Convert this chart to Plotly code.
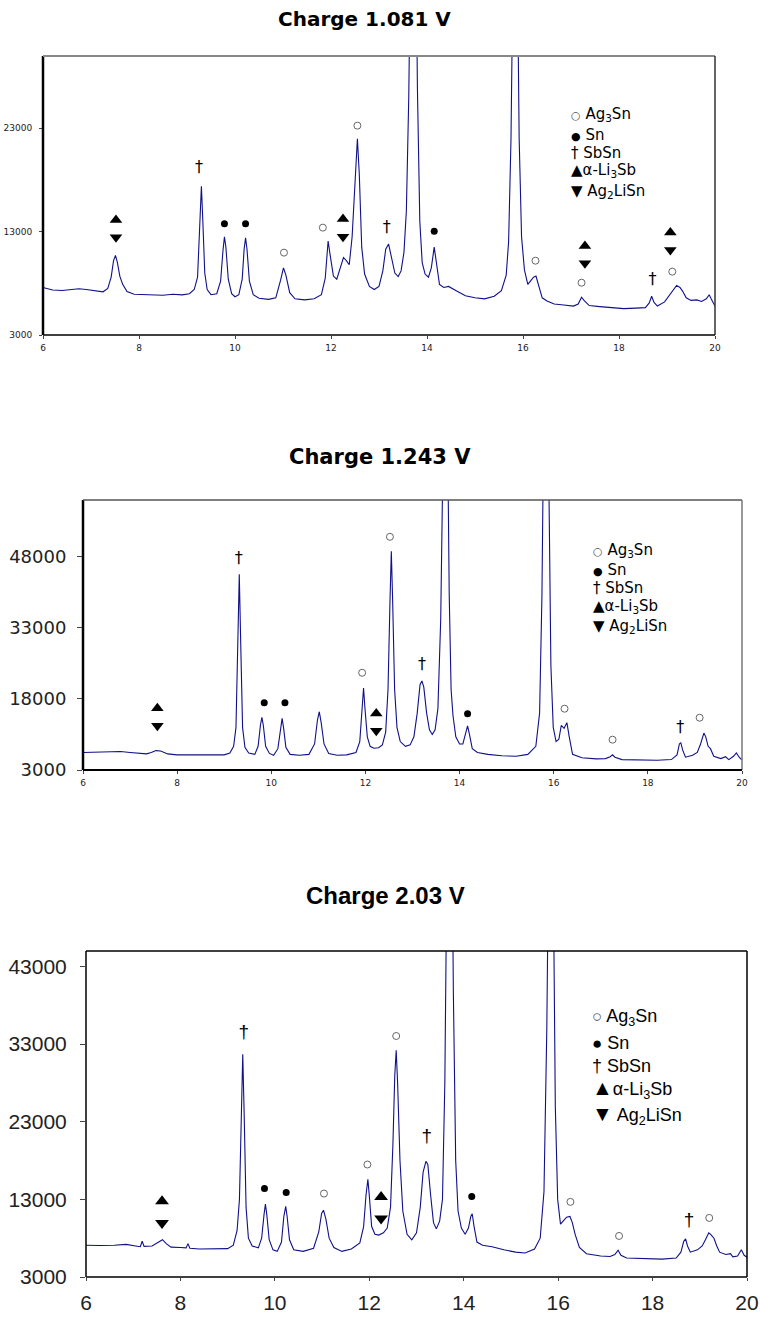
import plotly.graph_objects as go

# ---------------- data ----------------
TITLES = ["Charge 1.081 V", "Charge 1.243 V", "Charge 2.03 V"]
X_TICKS = [6, 8, 10, 12, 14, 16, 18, 20]
Y_TICKS_1 = [3000, 13000, 23000]
Y_TICKS_2 = [3000, 18000, 33000, 48000]
Y_TICKS_3 = [3000, 13000, 23000, 33000, 43000]

x1 = [6.00, 6.20, 6.40, 6.60, 6.75, 6.90, 7.10, 7.25, 7.35, 7.42, 7.47, 7.51, 7.55, 7.60, 7.66, 7.75, 7.90, 8.20,
      8.50, 8.70, 8.90, 9.05, 9.15, 9.22, 9.26, 9.30, 9.33, 9.37, 9.42, 9.50, 9.62, 9.70, 9.75, 9.78, 9.81, 9.86,
      9.93, 10.00, 10.08, 10.15, 10.19, 10.22, 10.25, 10.30, 10.38, 10.50, 10.70, 10.85, 10.95, 11.01, 11.06, 11.14,
      11.25, 11.45, 11.65, 11.80, 11.88, 11.94, 11.98, 12.05, 12.12, 12.20, 12.26, 12.32, 12.38, 12.44, 12.50, 12.55,
      12.59, 12.64, 12.70, 12.80, 12.90, 13.00, 13.08, 13.14, 13.20, 13.26, 13.33, 13.40, 13.46, 13.52, 13.57, 13.62,
      13.67, 13.71, 13.75, 13.80, 13.85, 13.90, 13.96, 14.03, 14.09, 14.15, 14.20, 14.26, 14.35, 14.45, 14.60, 14.80,
      15.00, 15.20, 15.40, 15.55, 15.65, 15.70, 15.75, 15.80, 15.84, 15.88, 15.92, 15.97, 16.03, 16.10, 16.16, 16.22,
      16.27, 16.32, 16.40, 16.50, 16.65, 16.85, 17.05, 17.15, 17.22, 17.28, 17.38, 17.60, 17.85, 18.10, 18.35, 18.55,
      18.63, 18.68, 18.73, 18.80, 18.95, 19.05, 19.15, 19.20, 19.27, 19.33, 19.40, 19.50, 19.62, 19.72, 19.82, 19.88,
      19.93, 20.00]
y1 = [7600, 7350, 7300, 7400, 7480, 7400, 7250, 7180, 7500, 8600, 10200, 10700, 10000, 8700, 7900, 7200, 6950, 6900,
      6850, 6950, 6880, 7000, 7400, 8600, 12500, 17400, 14000, 9000, 7400, 6900, 7000, 8200, 11200, 12500, 11500, 8400,
      7000, 6700, 6900, 8400, 11300, 12400, 11300, 8200, 6900, 6550, 6450, 6600, 8300, 9500, 8800, 7100,
      6500, 6400, 6500, 6900, 8500, 12100, 10800, 8700, 8400, 9500, 10500, 10200, 9800, 12500, 18500, 22000,
      18500, 11500, 8900, 7700, 7400, 7700, 9200, 11300, 11800, 10600, 9000, 8650, 9200, 11000, 15000, 26000,
      52000, 60000, 50000, 27000, 14000, 10000, 8900, 8600, 9500, 11500, 10000, 7900, 7600, 7700, 7300, 6800,
      6600, 6500, 6750, 7300, 8800, 12000, 22000, 45000, 58000, 40000, 22000, 12500, 9300, 7900, 8200, 8600,
      8700, 7800, 6600, 6300, 6000, 5900, 5800, 6000, 6650, 6300, 5850, 5750, 5650, 5550, 5600, 5650,
      6100, 6750, 6150, 5800, 6200, 6800, 7500, 7800, 7600, 7200, 6600, 6350, 6400, 6250, 6500, 6900,
      6400, 5800]

x2 = [6.00, 6.30, 6.60, 6.80, 7.00, 7.20, 7.35, 7.45, 7.55, 7.65, 7.80, 8.00, 8.40, 8.80, 9.00, 9.12, 9.20, 9.25,
      9.29, 9.32, 9.35, 9.39, 9.44, 9.52, 9.65, 9.72, 9.77, 9.80, 9.83, 9.88, 9.96, 10.05, 10.14, 10.19, 10.23, 10.26,
      10.31, 10.40, 10.60, 10.80, 10.92, 10.98, 11.02, 11.06, 11.12, 11.22, 11.40, 11.60, 11.80, 11.88, 11.93, 11.96,
      11.99, 12.04, 12.10, 12.18, 12.28, 12.36, 12.43, 12.48, 12.52, 12.55, 12.58, 12.62, 12.67, 12.74, 12.85, 12.95,
      13.03, 13.10, 13.16, 13.20, 13.24, 13.30, 13.36, 13.42, 13.48, 13.54, 13.60, 13.65, 13.69, 13.74, 13.78, 13.82,
      13.86, 13.92, 14.00, 14.07, 14.12, 14.17, 14.21, 14.27, 14.38, 14.60, 14.90, 15.20, 15.45, 15.62, 15.70, 15.75,
      15.80, 15.85, 15.89, 15.94, 15.99, 16.05, 16.11, 16.16, 16.22, 16.28, 16.33, 16.40, 16.60, 16.90, 17.10, 17.20,
      17.25, 17.30, 17.45, 17.80, 18.20, 18.50, 18.62, 18.67, 18.70, 18.74, 18.80, 18.95, 19.05, 19.12, 19.19, 19.23,
      19.28, 19.33, 19.40, 19.55, 19.65, 19.72, 19.82, 19.88, 19.94, 20.00]
y2 = [6700, 6800, 6850, 6900, 6700, 6450, 6400, 6700, 7100, 7000, 6400, 6200, 6150, 6150, 6200, 6600, 8000, 12000,
      30000, 44300, 30000, 12000, 7800, 6600, 6300, 8000, 12500, 14100, 12500, 8000, 6500, 6100, 7500, 11500, 13900, 12000,
      7800, 6300, 6100, 6300, 8500, 13500, 15300, 13000, 8500, 6500, 6100, 6200, 6700, 9000, 16000, 20300,
      16000, 10000, 8000, 7600, 7700, 8300, 11000, 20000, 38000, 49200, 38000, 20000, 12000, 9000, 8000, 8300,
      10000, 15000, 21000, 21800, 20500, 15000, 11500, 10500, 11500, 16000, 35000, 70000, 100000, 80000, 40000, 20000,
      14500, 10000, 8500, 8500, 10500, 12300, 10500, 7500, 6700, 6300, 6000, 5900, 6300, 8000, 15000, 40000,
      90000, 110000, 70000, 25000, 12000, 9000, 9500, 12400, 11800, 13000, 10000, 6300, 5600, 5350, 5400, 5800,
      6200, 5700, 5200, 5150, 5050, 5200, 6200, 8500, 8800, 7200, 5700, 6100, 6700, 8500, 10800, 10000,
      8000, 7500, 5900, 5400, 5800, 5200, 5900, 6600, 5700, 5100]

x3 = [6.00, 6.30, 6.60, 6.85, 7.05, 7.15, 7.19, 7.23, 7.40, 7.48, 7.55, 7.62, 7.70, 7.80, 8.00, 8.12, 8.16, 8.20,
      8.40, 8.70, 9.00, 9.12, 9.20, 9.25, 9.29, 9.32, 9.35, 9.39, 9.44, 9.52, 9.65, 9.72, 9.77, 9.80, 9.83, 9.88,
      9.96, 10.05, 10.14, 10.19, 10.23, 10.26, 10.31, 10.40, 10.60, 10.82, 10.93, 10.99, 11.03, 11.08, 11.15, 11.25,
      11.42, 11.62, 11.80, 11.88, 11.93, 11.97, 12.00, 12.05, 12.12, 12.20, 12.30, 12.38, 12.45, 12.50, 12.54, 12.57,
      12.60, 12.65, 12.71, 12.80, 12.90, 13.00, 13.08, 13.14, 13.20, 13.24, 13.30, 13.36, 13.42, 13.49, 13.55, 13.60,
      13.65, 13.69, 13.74, 13.78, 13.83, 13.88, 13.95, 14.03, 14.10, 14.15, 14.18, 14.22, 14.28, 14.40, 14.60, 14.85,
      15.10, 15.30, 15.50, 15.62, 15.70, 15.76, 15.81, 15.85, 15.89, 15.94, 15.99, 16.05, 16.12, 16.18, 16.25, 16.30,
      16.36, 16.45, 16.60, 16.90, 17.10, 17.20, 17.27, 17.33, 17.45, 17.80, 18.20, 18.50, 18.60, 18.66, 18.70, 18.74,
      18.80, 18.95, 19.05, 19.12, 19.19, 19.23, 19.30, 19.36, 19.42, 19.55, 19.65, 19.70, 19.80, 19.88, 19.94, 20.00]
y3 = [7100, 7050, 7100, 7200, 7000, 6900, 7600, 6950, 7000, 7300, 7600, 7800, 7300, 6850, 6800, 6750, 7300, 6700,
      6600, 6600, 6650, 7100, 9000, 13000, 24000, 31700, 24000, 12000, 8000, 7000, 6750, 8000, 11000, 12400, 11000, 7800,
      6500, 6300, 7500, 10800, 12100, 10800, 7800, 6500, 6300, 6700, 8800, 11200, 11600, 10500, 8000, 6800,
      6300, 6600, 7400, 9500, 13500, 15600, 13500, 9500, 8500, 8400, 8700, 9300, 12000, 20000, 29000, 32200,
      28000, 18000, 11500, 8500, 7800, 8700, 12000, 16500, 17900, 17500, 13500, 10000, 9200, 10200, 13000, 28000,
      60000, 85000, 70000, 40000, 18000, 11500, 9300, 8500, 9300, 10800, 11150, 9500, 7500, 7100, 6900, 6500,
      6200, 6100, 6600, 8000, 14000, 35000, 75000, 90000, 60000, 25000, 13000, 9800, 10300, 10700, 10800, 10000,
      8500, 6800, 6000, 5700, 5650, 5900, 6450, 5800, 5450, 5400, 5300, 5450, 6200, 7600, 7900, 7000,
      6200, 6500, 7000, 7800, 8700, 8500, 8000, 7000, 6200, 5900, 6000, 5600, 5700, 6500, 5800, 5550]

# phase marks: (x, y) in data units
p1_open_x = [11.02, 11.83, 12.55, 16.26, 17.22, 19.11]
p1_open_y = [10970, 13390, 23260, 10190, 8060, 9130]
p1_fill_x = [9.78, 10.22, 14.15]
p1_fill_y = [13770, 13770, 13030]
p1_tri_x = [7.52, 12.25, 17.29, 19.07]
p1_up_y = [14130, 14230, 11610, 12930]
p1_dn_y = [12450, 12520, 9940, 11230]
p1_dag_x = [9.25, 13.16, 18.70]
p1_dag_y = [19130, 13320, 8320]

p2_open_x = [11.93, 12.52, 16.23, 17.25, 19.10]
p2_open_y = [23530, 52230, 15940, 9400, 14040]
p2_fill_x = [9.85, 10.29, 14.17]
p2_fill_y = [17200, 17200, 14880]
p2_tri_x = [7.58, 12.23]
p2_up_y = [16010, 14950]
p2_dn_y = [12350, 11300]
p2_dag_x = [9.31, 13.20, 18.69]
p2_dag_y = [47520, 25080, 11790]

p3_open_x = [11.04, 11.96, 12.57, 16.26, 17.29, 19.20]
p3_open_y = [13750, 17490, 34050, 12680, 8290, 10610]
p3_fill_x = [9.78, 10.24, 14.17]
p3_fill_y = [14400, 13880, 13370]
p3_tri_x = [7.61, 12.25]
p3_up_y = [12760, 13320]
p3_dn_y = [9970, 10530]
p3_dag_x = [9.34, 13.22, 18.77]
p3_dag_y = [34400, 21060, 10180]

LEGEND_SYMBOLS = ["\u25cb", "\u25cf", "\u2020", "\u25b2", "\u25bc"]
LEGEND_LABELS = [" Ag<sub>3</sub>Sn", " Sn", " SbSn", "\u03b1-Li<sub>3</sub>Sb", " Ag<sub>2</sub>LiSn"]

# ---------------- layout helpers ----------------
W, H = 760, 1319
LINE_COLOR = "#10108a"


def px_x(p):
    return p / W


def px_y(p):
    return 1 - p / H


panels = [
    dict(xs=x1, ys=y1, box=(43, 715, 56, 335), yr=[3000, 30000], yt=Y_TICKS_1,
         yfont=9, xfont=9, fam="DejaVu Sans", yst=5, xst=1, tlen=3,
         op=(p1_open_x, p1_open_y), fi=(p1_fill_x, p1_fill_y), tri=(p1_tri_x, p1_up_y, p1_dn_y),
         dag=(p1_dag_x, p1_dag_y), msz=7, tsz=11, dsz=16,
         title_xy=(364, 19), tfam="DejaVu Sans", tsize=20,
         leg_x=569, leg_y=[115, 135, 153, 171, 191], leg_size=15, leg_fam="DejaVu Sans",
         leg_sym=[11, 11, 15, 15, 15],
         frame=[("l", "black", 2.5), ("t", "#888888", 2), ("r", "#333333", 1.5), ("b", "black", 1.5)]),
    dict(xs=x2, ys=y2, box=(83, 742, 500, 770), yr=[3000, 60000], yt=Y_TICKS_2,
         yfont=18, xfont=9, fam="DejaVu Sans", yst=7, xst=1, tlen=5,
         op=(p2_open_x, p2_open_y), fi=(p2_fill_x, p2_fill_y), tri=(p2_tri_x, p2_up_y, p2_dn_y),
         dag=(p2_dag_x, p2_dag_y), msz=7, tsz=11, dsz=16,
         title_xy=(380, 457), tfam="DejaVu Sans", tsize=21,
         leg_x=591, leg_y=[550, 570, 588, 606, 626], leg_size=15, leg_fam="DejaVu Sans",
         leg_sym=[11, 11, 15, 15, 15],
         frame=[("l", "black", 2.5), ("t", "#555555", 1.5), ("r", "#777777", 1.5), ("b", "black", 2)]),
    dict(xs=x3, ys=y3, box=(86, 747, 951, 1277), yr=[3000, 45000], yt=Y_TICKS_3,
         yfont=21, xfont=21, fam="Liberation Sans", yst=9, xst=4, tlen=5,
         op=(p3_open_x, p3_open_y), fi=(p3_fill_x, p3_fill_y), tri=(p3_tri_x, p3_up_y, p3_dn_y),
         dag=(p3_dag_x, p3_dag_y), msz=7, tsz=12, dsz=19,
         title_xy=(385, 895), tfam="Liberation Sans", tsize=24,
         leg_x=590, leg_y=[1017, 1043, 1066, 1089, 1115], leg_size=18, leg_fam="Liberation Sans",
         leg_sym=[17, 17, 18, 21, 21],
         frame=[("l", "black", 1.5), ("t", "black", 1.5), ("r", "black", 1.5), ("b", "black", 1.5)]),
]

fig = go.Figure()
layout = dict(width=W, height=H, margin=dict(l=0, r=0, t=0, b=0),
              paper_bgcolor="white", plot_bgcolor="white", showlegend=False)
annotations = []
shapes = []

for i, p in enumerate(panels, start=1):
    sfx = "" if i == 1 else str(i)
    xa, ya = "x" + sfx, "y" + sfx
    x0, x1p, yt0, yb0 = p["box"]
    layout["xaxis" + sfx] = dict(
        domain=[px_x(x0), px_x(x1p)], range=[6, 20], tickvals=X_TICKS, tickformat="d",
        ticks="outside", ticklen=3, tickcolor="#444", showgrid=False, zeroline=False,
        showline=False, anchor=ya, automargin=False, ticklabelstandoff=p["xst"],
        tickfont=dict(family=p["fam"], size=p["xfont"], color="#222"))
    layout["yaxis" + sfx] = dict(
        domain=[px_y(yb0), px_y(yt0)], range=p["yr"], tickvals=p["yt"], tickformat="d",
        ticks="outside", ticklen=p["tlen"], tickcolor="#444", showgrid=False, zeroline=False,
        showline=False, anchor=xa, automargin=False, ticklabelstandoff=p["yst"],
        tickfont=dict(family=p["fam"], size=p["yfont"], color="#222"))

    fig.add_trace(go.Scatter(x=p["xs"], y=p["ys"], mode="lines", xaxis=xa, yaxis=ya,
                             line=dict(color=LINE_COLOR, width=1.1), hoverinfo="skip"))
    fig.add_trace(go.Scatter(x=p["op"][0], y=p["op"][1], mode="markers", xaxis=xa, yaxis=ya,
                             marker=dict(symbol="circle-open", size=p["msz"], color="#666",
                                         line=dict(width=1, color="#666"))))
    fig.add_trace(go.Scatter(x=p["fi"][0], y=p["fi"][1], mode="markers", xaxis=xa, yaxis=ya,
                             marker=dict(symbol="circle", size=p["msz"], color="black")))
    fig.add_trace(go.Scatter(x=p["tri"][0], y=p["tri"][1], mode="markers", xaxis=xa, yaxis=ya,
                             marker=dict(symbol="triangle-up", size=p["tsz"], color="black")))
    fig.add_trace(go.Scatter(x=p["tri"][0], y=p["tri"][2], mode="markers", xaxis=xa, yaxis=ya,
                             marker=dict(symbol="triangle-down", size=p["tsz"], color="black")))
    fig.add_trace(go.Scatter(x=p["dag"][0], y=p["dag"][1], mode="text", text=["\u2020"] * len(p["dag"][0]),
                             textposition="middle center", xaxis=xa, yaxis=ya,
                             textfont=dict(family=p["fam"], size=p["dsz"], color="black")))

    # frame
    for side, col, wd in p["frame"]:
        if side == "l":
            c = (0, 0, 0, 1)
        elif side == "r":
            c = (1, 0, 1, 1)
        elif side == "t":
            c = (0, 1, 1, 1)
        else:
            c = (0, 0, 1, 0)
        shapes.append(dict(type="line", xref=xa + " domain", yref=ya + " domain",
                           x0=c[0], y0=c[1], x1=c[2], y1=c[3], line=dict(color=col, width=wd)))

    # title
    annotations.append(dict(text="<b>%s</b>" % TITLES[i - 1], xref="paper", yref="paper",
                            x=px_x(p["title_xy"][0]), y=px_y(p["title_xy"][1]),
                            xanchor="center", yanchor="middle", showarrow=False,
                            font=dict(family=p["tfam"], size=p["tsize"], color="black")))
    # legend
    for sym, lab, ssz, ly in zip(LEGEND_SYMBOLS, LEGEND_LABELS, p["leg_sym"], p["leg_y"]):
        col = "#555" if sym == "\u25cb" else "black"
        txt = '<span style="font-size:%dpx;color:%s">%s</span>%s' % (ssz, col, sym, lab)
        annotations.append(dict(text=txt, xref="paper", yref="paper", x=px_x(p["leg_x"]), y=px_y(ly),
                                xanchor="left", yanchor="middle", showarrow=False,
                                font=dict(family=p["leg_fam"], size=p["leg_size"], color="black")))

layout["annotations"] = annotations
layout["shapes"] = shapes
fig.update_layout(**layout)
fig.write_html("out.html", config={"displayModeBar": False},
               post_script="document.body.style.margin='0';document.body.style.overflow='hidden';")
